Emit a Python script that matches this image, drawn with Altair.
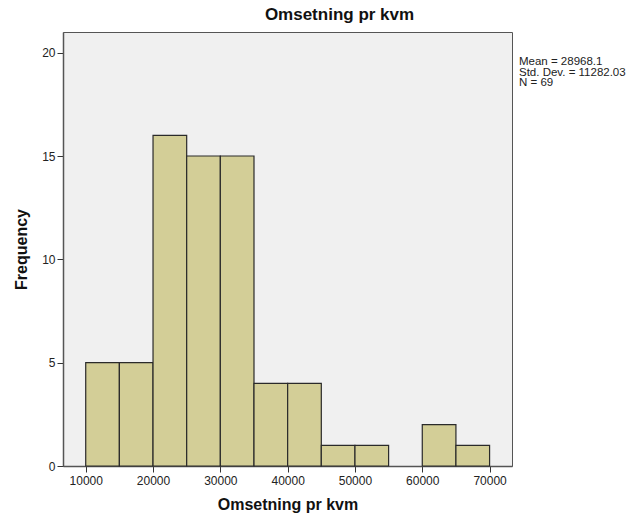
import altair as alt
import pandas as pd

# Histogram data (bins of width 5000)
bin_start = [10000, 15000, 20000, 25000, 30000, 35000, 40000, 45000, 50000, 55000, 60000, 65000]
bin_width = 5000
counts = [5, 5, 16, 15, 15, 4, 4, 1, 1, 0, 2, 1]

x_ticks = [10000, 20000, 30000, 40000, 50000, 60000, 70000]
y_ticks = [0, 5, 10, 15, 20]

stat_labels = ["Mean", "Std. Dev.", "N"]
stat_values = ["28968.1", "11282.03", "69"]

FONT = "Liberation Sans"

df = pd.DataFrame({
    "start": bin_start,
    "end": [s + bin_width for s in bin_start],
    "count": counts,
})
df = df[df["count"] > 0]

x_scale = alt.Scale(domain=[6625, 73330], nice=False, zero=False)
y_scale = alt.Scale(domain=[0, 21], nice=False)

bars = alt.Chart(df).mark_rect(
    fill="#d3ce97", stroke="#2a2a2a", strokeWidth=1.2
).encode(
    x=alt.X("start:Q", scale=x_scale,
            axis=alt.Axis(values=x_ticks, format="d", title="Omsetning pr kvm",
                          tickSize=6, labelPadding=3, titlePadding=10,
                          domainColor="#555", domainWidth=1.5,
                          tickColor="#333", grid=False)),
    x2="end:Q",
    y=alt.Y("count:Q", scale=y_scale,
            axis=alt.Axis(values=y_ticks, format="d", title="Frequency",
                          tickSize=6, labelPadding=2, titlePadding=12,
                          domainColor="#555", domainWidth=1.5,
                          tickColor="#333", grid=False)),
    y2=alt.datum(0),
)

stats_text = "\n".join(f"{l} = {v}" for l, v in zip(stat_labels, stat_values))
annot = alt.Chart(pd.DataFrame({"t": [stats_text]})).mark_text(
    align="left", baseline="top", lineBreak="\n", fontSize=11.5, lineHeight=10.5,
    font=FONT, color="#222"
).encode(
    text="t:N",
    x=alt.value(456),
    y=alt.value(24),
)

chart = alt.layer(bars, annot).properties(
    width=449,
    height=434,
    background="white",
    title=alt.TitleParams("Omsetning pr kvm", fontSize=17, fontWeight="bold",
                          font=FONT, color="#111", anchor="middle", dx=52, offset=8),
    autosize=alt.AutoSizeParams(type="none"),
    padding={"left": 63, "top": 32, "right": 121, "bottom": 58},
).configure_view(
    fill="#f0f0f0", stroke="#555", strokeWidth=1
).configure_axis(
    labelFont=FONT, labelFontSize=12, labelColor="#222",
    titleFont=FONT, titleFontSize=16, titleFontWeight="bold", titleColor="#111",
)

chart.save("out.html", embed_options={"renderer": "svg", "actions": False})
